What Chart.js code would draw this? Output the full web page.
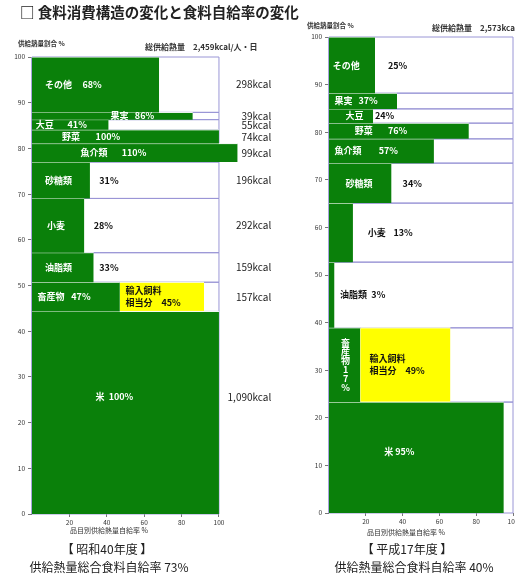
<!DOCTYPE html>
<html lang="ja">
<head>
<meta charset="utf-8">
<title>食料消費構造の変化と食料自給率の変化</title>
<script src="https://cdn.jsdelivr.net/npm/chart.js@4.4.1/dist/chart.umd.min.js"></script>
<style>
  html, body { margin: 0; padding: 0; background: #fff; overflow: hidden; }
  body { width: 515px; height: 577px; position: relative; font-family: 'Noto Sans CJK JP', sans-serif; color: #222; }
  canvas { position: absolute; top: 0; }
  #chartS40 { left: 0; }
  #chartH17 { left: 290px; }
  .txt { position: absolute; white-space: nowrap; line-height: 1; z-index: 2; }
  .title { left: 20px; top: 5px; font-size: 14.5px; font-weight: bold; }
  .note { font-size: 6.5px; font-weight: bold; color: #333; }
  .total { font-size: 8px; font-weight: bold; color: #333; }
  .axis { font-size: 7px; color: #333; }
  .cap { font-size: 12px; transform: translateX(-50%); }
</style>
</head>
<body>
<div class="txt title">□ 食料消費構造の変化と食料自給率の変化</div>

<div class="txt note" style="left:18px; top:40px">供給熱量割合 %</div>
<div class="txt total" id="totalS40" style="left:145px; top:43px"></div>
<div class="txt note" style="left:307px; top:22px">供給熱量割合 %</div>
<div class="txt total" id="totalH17" style="left:432px; top:24px"></div>

<div class="txt axis" style="left:70px; top:527px">品目別供給熱量自給率 %</div>
<div class="txt axis" style="left:367px; top:529px">品目別供給熱量自給率 %</div>

<div class="txt cap" id="yearS40" style="left:107px; top:543px"></div>
<div class="txt cap" id="rateS40" style="left:109px; top:561px"></div>
<div class="txt cap" id="yearH17" style="left:407px; top:543px"></div>
<div class="txt cap" id="rateH17" style="left:414px; top:561px"></div>

<canvas id="chartS40" width="290" height="577"></canvas>
<canvas id="chartH17" width="235" height="577"></canvas>

<script>
// 品目 (上から順に積む)
const categories = ['その他', '果実', '大豆', '野菜', '魚介類', '砂糖類', '小麦', '油脂類', '畜産物', '米'];

// 昭和40年度: 供給熱量 kcal と品目別自給率 %
const kcalS40 = [298, 39, 55, 74, 99, 196, 292, 159, 157, 1090];
const rateS40 = [68, 86, 41, 100, 110, 31, 28, 33, 47, 100];
const feedS40 = 45;          // 畜産物の輸入飼料相当分
const totalS40 = 2459;
const overallS40 = 73;

// 平成17年度: 供給熱量割合 % と品目別自給率 %
const shareH17 = [11.8, 3.3, 3.0, 3.3, 5.1, 8.4, 12.4, 13.8, 15.6, 23.3];
const rateH17 = [25, 37, 24, 76, 57, 34, 13, 3, 17, 95];
const feedH17 = 49;
const totalH17 = 2573;
const overallH17 = 40;

const yTicks = [0, 10, 20, 30, 40, 50, 60, 70, 80, 90, 100];
const xTicks = [20, 40, 60, 80, 100];

const FONT = "'Noto Sans CJK JP', sans-serif";
const GREEN = '#0a800a';
const YELLOW = '#ffff00';
const FRAME = '#9a96d6';

Chart.defaults.font.family = FONT;

// ラベル位置 (x軸の値で指定)。out: 割合を枠外に黒字で
const layoutS40 = [
  { nx: 7,  px: 27 },
  { nx: 42, px: 55 },
  { nx: 2,  px: 19 },
  { nx: 16, px: 34 },
  { nx: 26, px: 48 },
  { nx: 7,  px: 36, out: true },
  { nx: 8,  px: 33, out: true },
  { nx: 7,  px: 36, out: true },
  { nx: 3,  px: 21, feedX: 50 },
  { nx: 34, px: 41, y: 25.6 },
];
const layoutH17 = [
  { nx: 2,  px: 32, out: true },
  { nx: 3,  px: 16 },
  { nx: 9,  px: 25, out: true },
  { nx: 14, px: 32 },
  { nx: 3,  px: 27 },
  { nx: 9,  px: 40, out: true },
  { nx: 21, px: 35, nameOut: true, out: true },
  { nx: 6,  px: 23, nameOut: true, out: true },
  { nx: 9,  vertical: true, feedX: 22 },
  { nx: 30, px: 36, y: 12.8 },
];

function stackBands(shares) {
  let top = shares.reduce((a, b) => a + b, 0);
  return shares.map(s => {
    const band = { hi: top, lo: top - s };
    top -= s;
    return band;
  });
}

function bandDatasets(bands, rates, feed, feedRow) {
  const sets = [];
  bands.forEach((b, i) => {
    // 0-100% の枠
    sets.push({
      data: [{ x: 0, y: b.lo }, { x: 100, y: b.lo }, { x: 100, y: b.hi }, { x: 0, y: b.hi }, { x: 0, y: b.lo }],
      showLine: true, fill: false, borderColor: FRAME, borderWidth: 1,
      backgroundColor: 'transparent', pointRadius: 0, order: 2, clip: false,
    });
    // 自給率の帯
    sets.push({
      data: [{ x: 0, y: b.hi }, { x: rates[i], y: b.hi }],
      showLine: true, fill: { value: b.lo }, backgroundColor: GREEN,
      borderColor: '#ffffff', borderWidth: 1, pointRadius: 0, order: 1,
    });
  });
  const fb = bands[feedRow];
  sets.push({
    data: [{ x: rates[feedRow], y: fb.hi }, { x: rates[feedRow] + feed, y: fb.hi }],
    showLine: true, fill: { value: fb.lo }, backgroundColor: YELLOW,
    borderColor: '#ffffff', borderWidth: 1, pointRadius: 0, order: 1,
  });
  return sets;
}

function labelPlugin(bands, rates, layout, feed, kcal) {
  return {
    id: 'bandLabels',
    afterDatasetsDraw(chart) {
      const { ctx, scales: { x, y } } = chart;
      ctx.save();
      ctx.textBaseline = 'middle';
      ctx.textAlign = 'left';
      ctx.font = `bold 9px ${FONT}`;
      bands.forEach((b, i) => {
        const pos = layout[i];
        const cy = y.getPixelForValue(pos.y !== undefined ? pos.y : (b.lo + b.hi) / 2);
        if (pos.vertical) {
          const chars = [...categories[i], ...String(rates[i]), '%'];
          const step = 9;
          let ty = y.getPixelForValue((b.lo + b.hi) / 2) - (chars.length - 1) * step / 2;
          ctx.fillStyle = '#fff';
          ctx.textAlign = 'center';
          chars.forEach(c => { ctx.fillText(c, x.getPixelForValue(pos.nx), ty); ty += step; });
          ctx.textAlign = 'left';
        } else {
          ctx.fillStyle = pos.nameOut ? '#111' : '#fff';
          ctx.fillText(categories[i], x.getPixelForValue(pos.nx), cy);
          ctx.fillStyle = pos.out ? '#111' : '#fff';
          ctx.fillText(rates[i] + '%', x.getPixelForValue(pos.px), cy);
        }
        if (pos.feedX !== undefined) {
          const fy = y.getPixelForValue((b.lo + b.hi) / 2);
          ctx.fillStyle = '#111';
          ctx.fillText('輸入飼料', x.getPixelForValue(pos.feedX), fy - 6);
          ctx.fillText('相当分　' + feed + '%', x.getPixelForValue(pos.feedX), fy + 6);
        }
        if (kcal) {
          ctx.save();
          ctx.font = `10px ${FONT}`;
          ctx.fillStyle = '#222';
          ctx.textAlign = 'right';
          ctx.fillText(kcal[i].toLocaleString('en-US') + 'kcal', x.getPixelForValue(128), cy);
          ctx.restore();
        }
      });
      ctx.restore();
    },
  };
}

function makeChart(id, cfg) {
  const bands = stackBands(cfg.shares);
  return new Chart(document.getElementById(id), {
    type: 'scatter',
    data: { datasets: bandDatasets(bands, cfg.rates, cfg.feed, 8) },
    options: {
      responsive: false,
      animation: false,
      events: [],
      layout: { padding: cfg.padding },
      plugins: { legend: { display: false }, tooltip: { enabled: false } },
      scales: {
        x: {
          type: 'linear', min: 0, max: cfg.xMax,
          afterBuildTicks: s => { s.ticks = xTicks.map(v => ({ value: v })); },
          afterFit: s => { s.height = 16; },
          grid: { drawOnChartArea: false, tickLength: 3, color: '#777' },
          border: { display: false },
          ticks: { font: { size: 6.5 }, color: '#333', padding: 2, maxRotation: 0 },
        },
        y: {
          type: 'linear', min: 0, max: 100,
          afterBuildTicks: s => { s.ticks = yTicks.map(v => ({ value: v })); },
          afterFit: s => { s.width = cfg.yWidth; },
          grid: { drawOnChartArea: false, tickLength: 4, color: '#777' },
          border: { display: false },
          ticks: { font: { size: 6.5 }, color: '#333', padding: 3 },
        },
      },
    },
    plugins: [labelPlugin(bands, cfg.rates, cfg.layout, cfg.feed, cfg.kcal)],
  });
}

makeChart('chartS40', {
  shares: kcalS40.map(k => k / totalS40 * 100),
  rates: rateS40, feed: feedS40, kcal: kcalS40, layout: layoutS40,
  xMax: 112, yWidth: 32,
  padding: { top: 57, bottom: 47, left: 0, right: 48.6 },
});

makeChart('chartH17', {
  shares: shareH17,
  rates: rateH17, feed: feedH17, layout: layoutH17,
  xMax: 100, yWidth: 39,
  padding: { top: 37, bottom: 48, left: 0, right: 12 },
});

document.getElementById('totalS40').textContent = '総供給熱量　' + totalS40.toLocaleString('en-US') + 'kcal/人・日';
document.getElementById('totalH17').textContent = '総供給熱量　' + totalH17.toLocaleString('en-US') + 'kcal';
document.getElementById('yearS40').textContent = '【 昭和40年度 】';
document.getElementById('rateS40').textContent = '供給熱量総合食料自給率 ' + overallS40 + '%';
document.getElementById('yearH17').textContent = '【 平成17年度 】';
document.getElementById('rateH17').textContent = '供給熱量総合食料自給率 ' + overallH17 + '%';
</script>
</body>
</html>
